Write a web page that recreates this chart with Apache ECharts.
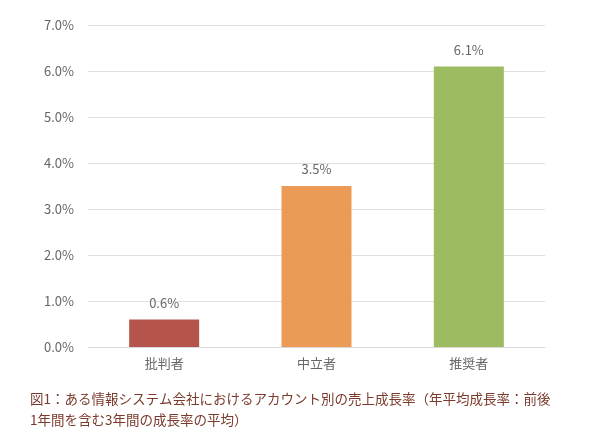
<!DOCTYPE html>
<html><head><meta charset="utf-8">
<script src="https://cdn.jsdelivr.net/npm/echarts@6/dist/echarts.min.js"></script>
<style>body{margin:0;background:#fff}#c{width:600px;height:442px}</style>
</head><body><div id="c"></div>
<script>
const categories = ['批判者','中立者','推奨者'];
const values = [0.6, 3.5, 6.1];
const colors = ['#b5544c','#eb9b55','#9dbb61'];
const caption = '図1：ある情報システム会社におけるアカウント別の売上成長率（年平均成長率：前後\n1年間を含む3年間の成長率の平均）';
const chart = echarts.init(document.getElementById('c'));
chart.setOption({
  animation:false,
  textStyle:{fontFamily:'"Noto Sans CJK JP", "Noto Sans", sans-serif'},
  grid:{left:88,right:55,top:25,bottom:95},
  graphic:[{type:'text',left:30,top:388,style:{text:caption,fill:'#7a3a2c',fontSize:13.5,lineHeight:21,fontFamily:'"Noto Sans CJK JP", sans-serif'}}],
  xAxis:{type:'category',data:categories,axisLine:{lineStyle:{color:'#d9d9d9'}},axisTick:{show:false},
    axisLabel:{color:'#666',fontSize:13,margin:10}},
  yAxis:{type:'value',min:0,max:7,interval:1,axisLine:{show:false},axisTick:{show:false},
    splitLine:{lineStyle:{color:'#e0e0e0'}},
    axisLabel:{color:'#666',fontSize:13,margin:14,formatter:v=>v.toFixed(1)+'%'}},
  series:[{type:'bar',barWidth:70,
    data:values.map((v,i)=>({value:v,itemStyle:{color:colors[i]}})),
    label:{show:true,position:'top',distance:10,color:'#666',fontSize:13,formatter:p=>p.value.toFixed(1)+'%'}}]
});
</script></body></html>
